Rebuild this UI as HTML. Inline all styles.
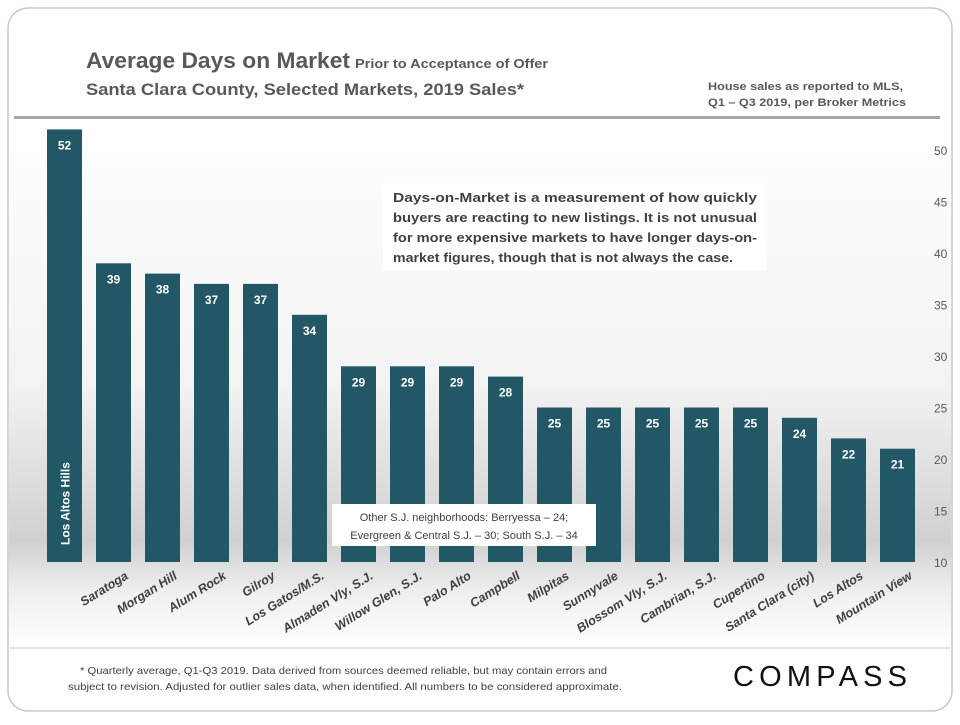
<!DOCTYPE html>
<html><head><meta charset="utf-8"><style>
body{margin:0;width:960px;height:720px;background:#fff;font-family:"Liberation Sans",sans-serif;overflow:hidden}
</style></head><body>
<svg width="960" height="720" viewBox="0 0 960 720" id="svg">
<defs>
<linearGradient id="bg" x1="0" y1="0" x2="0" y2="1">
<stop offset="0" stop-color="#ffffff"/>
<stop offset="0.5" stop-color="#f3f3f3"/>
<stop offset="0.8" stop-color="#d0d0d0"/>
<stop offset="0.9" stop-color="#f0f0f0"/>
<stop offset="1" stop-color="#ffffff"/>
</linearGradient>
</defs>
<rect x="8" y="8" width="944" height="703" rx="20" fill="#fff" stroke="#c8c8c8" stroke-width="1.5"/>
<rect x="9" y="119" width="942" height="528" fill="url(#bg)"/>
<rect x="14" y="116" width="926" height="3" fill="#a6a6a6"/>
<line x1="9" y1="648" x2="951" y2="648" stroke="#d0d0d0"/>
<text x="86" y="68" font-size="22" font-weight="bold" fill="#595959" textLength="264" lengthAdjust="spacingAndGlyphs">Average Days on Market</text>
<text x="355" y="68" font-size="13" font-weight="bold" fill="#595959" textLength="193" lengthAdjust="spacingAndGlyphs">Prior to Acceptance of Offer</text>
<text x="86" y="95" font-size="17" font-weight="bold" fill="#595959" textLength="438" lengthAdjust="spacingAndGlyphs">Santa Clara County, Selected Markets, 2019 Sales*</text>
<text x="708" y="90" font-size="11" font-weight="bold" fill="#595959" textLength="195" lengthAdjust="spacingAndGlyphs">House sales as reported to MLS,</text>
<text x="708" y="106" font-size="11" font-weight="bold" fill="#595959" textLength="198" lengthAdjust="spacingAndGlyphs">Q1 – Q3 2019, per Broker Metrics</text>
<g id="axis"></g>
<g id="bars"></g>
<g id="xlabels"></g>
<rect x="383" y="183" width="384" height="87" fill="#fff"/>
<g font-size="13" font-weight="bold" fill="#404040">
<text x="393" y="202" textLength="364" lengthAdjust="spacingAndGlyphs">Days-on-Market is a measurement of how quickly</text>
<text x="393" y="222" textLength="364" lengthAdjust="spacingAndGlyphs">buyers are reacting to new listings. It is not unusual</text>
<text x="393" y="242" textLength="364" lengthAdjust="spacingAndGlyphs">for more expensive markets to have longer days-on-</text>
<text x="393" y="262" textLength="340" lengthAdjust="spacingAndGlyphs">market figures, though that is not always the case.</text>
</g>
<rect x="332" y="504" width="264" height="42" fill="#fff"/>
<g font-size="11" fill="#404040" text-anchor="middle">
<text x="464" y="521">Other S.J. neighborhoods: Berryessa – 24;</text>
<text x="464" y="539">Evergreen &amp; Central S.J. – 30; South S.J. – 34</text>
</g>
<g font-size="10.5" fill="#404040">
<text x="80" y="674" textLength="527" lengthAdjust="spacingAndGlyphs">* Quarterly average, Q1-Q3 2019. Data derived from sources deemed reliable, but may contain errors and</text>
<text x="68" y="690" textLength="554" lengthAdjust="spacingAndGlyphs">subject to revision. Adjusted for outlier sales data, when identified. All numbers to be considered approximate.</text>
</g>
<text x="733" y="686" font-size="29" fill="#111" textLength="174" lengthAdjust="spacing">COMPASS</text>
</svg>
<script>
const categories=["Los Altos Hills","Saratoga","Morgan Hill","Alum Rock","Gilroy","Los Gatos/M.S.","Almaden Vly, S.J.","Willow Glen, S.J.","Palo Alto","Campbell","Milpitas","Sunnyvale","Blossom Vly, S.J.","Cambrian, S.J.","Cupertino","Santa Clara (city)","Los Altos","Mountain View"];
const values=[52,39,38,37,37,34,29,29,29,28,25,25,25,25,25,24,22,21];
const yTicks=[10,15,20,25,30,35,40,45,50];
const NS="http://www.w3.org/2000/svg";
const y=v=>562-(v-10)*10.3;
const x=i=>47+i*49;
const bw=35;
function mk(tag,attrs,parent,txt){const e=document.createElementNS(NS,tag);for(const k in attrs)e.setAttribute(k,attrs[k]);if(txt!==undefined)e.textContent=txt;parent.appendChild(e);return e;}
const ax=document.getElementById('axis'),bg=document.getElementById('bars'),xl=document.getElementById('xlabels');
yTicks.forEach(t=>{const e=mk('text',{x:934,y:y(t)+5,'font-size':12,fill:'#595959'},ax,t);

});
categories.forEach((c,i)=>{
const v=values[i];
const r=mk('rect',{x:x(i),y:y(v),width:bw,height:562-y(v),fill:'#225866'},bg);


const vl=mk('text',{x:x(i)+bw/2,y:y(v)+20,'font-size':12,'font-weight':'bold',fill:'#fff','text-anchor':'middle'},bg,v);


if(i===0){
const t=mk('text',{transform:`translate(${x(i)+bw/2+5},545) rotate(-90)`,'font-size':12,'font-weight':'bold',fill:'#fff'},xl,c);


}else{
const t=mk('text',{transform:`translate(${x(i)+bw-2},578) rotate(-32)`,'font-size':12.5,'font-weight':'bold',fill:'#404040','font-style':'italic','text-anchor':'end'},xl,c);


}
});
</script>
</body></html>
